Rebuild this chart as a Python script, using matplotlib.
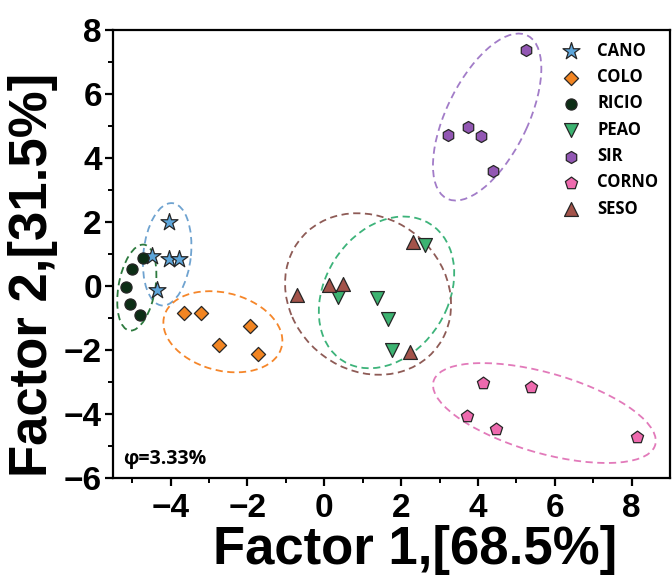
import numpy as np
import matplotlib.pyplot as plt
from matplotlib.patches import Ellipse

groups = ["CANO", "COLO", "RICIO", "PEAO", "SIR", "CORNO", "SESO"]

cano_x = [-4.05, -4.49, -4.03, -3.77, -4.36]
cano_y = [2.00, 0.93, 0.83, 0.83, -0.12]
colo_x = [-3.64, -3.20, -1.93, -2.73, -1.73]
colo_y = [-0.83, -0.83, -1.26, -1.84, -2.11]
ricio_x = [-4.72, -5.00, -5.17, -5.05, -4.81]
ricio_y = [0.87, 0.54, -0.04, -0.55, -0.90]
peao_x = [0.36, 1.36, 1.66, 1.75, 2.62]
peao_y = [-0.33, -0.37, -1.04, -2.01, 1.29]
sir_x = [5.26, 3.23, 3.74, 4.07, 4.39]
sir_y = [7.37, 4.72, 4.98, 4.69, 3.60]
corno_x = [4.14, 5.37, 3.72, 4.46, 8.14]
corno_y = [-3.02, -3.17, -4.07, -4.48, -4.73]
seso_x = [-0.72, 0.13, 0.48, 2.32, 2.23]
seso_y = [-0.29, 0.02, 0.05, 1.37, -2.06]

# confidence ellipses (centre, full width, full height, angle) per group
ell_cx = [-4.09, -2.64, -4.88, 1.62, 4.24, 5.73, 1.14]
ell_cy = [0.99, -1.43, -0.05, -0.20, 5.28, -3.97, -0.25]
ell_w = [3.21, 3.22, 2.71, 4.90, 5.52, 6.11, 5.15]
ell_h = [1.24, 2.38, 0.96, 3.30, 2.17, 2.46, 4.20]
ell_ang = [85.4, -23.8, 82.2, 70.0, 69.2, -20.1, -70.0]

phi_text = "φ=3.33%"

xs = [cano_x, colo_x, ricio_x, peao_x, sir_x, corno_x, seso_x]
ys = [cano_y, colo_y, ricio_y, peao_y, sir_y, corno_y, seso_y]
markers = ["*", "D", "o", "v", "h", "p", "^"]
sizes = [165, 52, 64, 100, 75, 85, 100]
fills = ["#5DA5DA", "#F28522", "#0D2E16", "#3CB371", "#9257B3", "#EE6AAE", "#A3534A"]
lines = ["#6FA3D0", "#F5862A", "#2D7A3E", "#3DB37A", "#A27CC8", "#E27ABA", "#8E5B56"]

fig = plt.figure(figsize=(6.72, 5.81), dpi=100)
ax = fig.add_axes([113 / 672, 103 / 581, 557 / 672, 448 / 581])

for i, g in enumerate(groups):
    e = Ellipse((ell_cx[i], ell_cy[i]), ell_w[i], ell_h[i], angle=ell_ang[i],
                fill=False, edgecolor=lines[i], linestyle=(0, (4, 2.5)),
                linewidth=1.3, zorder=2)
    ax.add_patch(e)

for i, g in enumerate(groups):
    ax.scatter(xs[i], ys[i], s=sizes[i], marker=markers[i], c=fills[i],
               edgecolors="#262626", linewidths=0.9, label=g, zorder=3)

ax.set_xlim(-5.5, 9)
ax.set_ylim(-6, 8)
ax.set_xticks(np.arange(-4, 9, 2))
ax.set_xticks(np.arange(-5, 9, 1), minor=True)
ax.set_yticks(np.arange(-6, 9, 2))
ax.set_yticks(np.arange(-5, 8, 1), minor=True)

tick_font = ["Liberation Sans Narrow", "Liberation Sans"]
for lab in ax.get_xticklabels() + ax.get_yticklabels():
    lab.set_family(tick_font)
    lab.set_fontweight("bold")
    lab.set_fontsize(24)

ax.tick_params(which="major", direction="out", length=6, width=1.6, pad=2)
ax.tick_params(which="minor", direction="out", length=3.5, width=1.4)
ax.tick_params(axis="x", which="major", pad=5)
for sp in ax.spines.values():
    sp.set_linewidth(1.6)

fig.text(415 / 672, 1 - 550 / 581, "Factor 1,[68.5%]", ha="center", va="center",
         fontsize=38, fontweight="bold", family="Liberation Sans")
fig.text(33 / 672, 1 - 275 / 581, "Factor 2,[31.5%]", ha="center", va="center",
         rotation=90, fontsize=38, fontweight="bold", family="Liberation Sans")

ax.text(0.018, 0.02, phi_text, transform=ax.transAxes, fontsize=14,
        fontweight="bold", family="Open Sans", va="bottom")

leg = ax.legend(loc="upper right", bbox_to_anchor=(1.0, 1.0), frameon=False,
                prop={"family": "Open Sans", "weight": "bold", "size": 12},
                labelspacing=0.5, handletextpad=0.6, borderaxespad=0.3,
                scatterpoints=1)

fig.savefig("out.png", dpi=100)
